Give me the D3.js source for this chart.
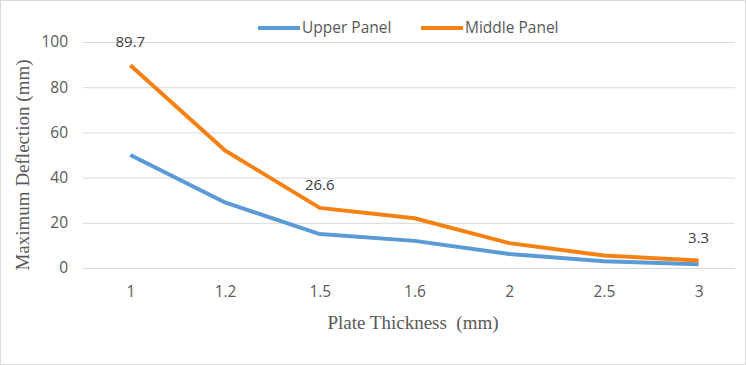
<!DOCTYPE html>
<html>
<head>
<meta charset="utf-8">
<script src="https://cdn.jsdelivr.net/npm/d3@7"></script>
<style>
  body { margin: 0; background: #fff; }
  svg { display: block; }
  .tick text { font-family: "Open Sans", "Liberation Sans", sans-serif; font-size: 15.5px; fill: #595959; }
</style>
</head>
<body>
<script>
const thickness = ['1', '1.2', '1.5', '1.6', '2', '2.5', '3']
const upperPanel = [50, 29, 15, 12, 6.2, 3, 1.7]
const middlePanel = [89.7, 52, 26.6, 22, 11, 5.5, 3.3]
const labelled = [0, 2, 6]   // middle panel points with value labels
const yTicks = [0, 20, 40, 60, 80, 100]

const width = 746
const height = 365
const margin = { top: 42, right: 0, bottom: 97, left: 83 }
const gridRight = 735

const svg = d3.select('body').append('svg')
  .attr('width', width)
  .attr('height', height)

svg.append('rect')
  .attr('x', 0.5).attr('y', 0.5)
  .attr('width', width - 1).attr('height', height - 1)
  .attr('fill', '#fff')
  .attr('stroke', '#d9d9d9')

const x = d3.scalePoint()
  .domain(thickness)
  .range([margin.left, width - margin.right])
  .padding(0.5)

const y = d3.scaleLinear()
  .domain([0, 100])
  .range([height - margin.bottom, margin.top])

// grid
svg.append('g')
  .attr('transform', `translate(${margin.left},0)`)
  .call(d3.axisLeft(y).tickValues(yTicks).tickSize(-(gridRight - margin.left)).tickPadding(15))
  .call(g => g.select('.domain').remove())
  .call(g => g.selectAll('.tick line').attr('stroke', '#d9d9d9').attr('stroke-width', 1))

svg.append('g')
  .attr('transform', `translate(0,${height - margin.bottom})`)
  .call(d3.axisBottom(x).tickSize(0).tickPadding(18))
  .call(g => g.select('.domain').remove())

const line = d3.line()
  .x((d, i) => x(thickness[i]))
  .y(d => y(d))

const series = [
  { name: 'Upper Panel', values: upperPanel, color: '#5b9bd5' },
  { name: 'Middle Panel', values: middlePanel, color: '#f58113' }
]

svg.selectAll('.series')
  .data(series)
  .join('path')
  .attr('class', 'series')
  .attr('d', d => line(d.values))
  .attr('fill', 'none')
  .attr('stroke', d => d.color)
  .attr('stroke-width', 4)
  .attr('stroke-linejoin', 'round')

svg.selectAll('.vlabel')
  .data(labelled)
  .join('text')
  .attr('class', 'vlabel')
  .attr('x', i => x(thickness[i]))
  .attr('y', i => y(middlePanel[i]) - 18)
  .attr('text-anchor', 'middle')
  .attr('font-family', '"Open Sans", "Liberation Sans", sans-serif')
  .attr('font-size', 15)
  .attr('fill', '#404040')
  .text(i => middlePanel[i])

// legend
const legendX = [258, 421]
const legend = svg.selectAll('.legend')
  .data(series)
  .join('g')
  .attr('class', 'legend')
  .attr('transform', (d, i) => `translate(${legendX[i]},28)`)
legend.append('line')
  .attr('x1', 0).attr('x2', 42)
  .attr('stroke', d => d.color)
  .attr('stroke-width', 4)
legend.append('text')
  .attr('x', 44)
  .attr('dy', '0.35em')
  .attr('font-family', '"Open Sans", "Liberation Sans", sans-serif')
  .attr('font-size', 15.5)
  .attr('fill', '#595959')
  .text(d => d.name)

// axis titles
svg.append('text')
  .attr('x', 413)
  .attr('y', 329)
  .attr('text-anchor', 'middle')
  .attr('font-family', '"Liberation Serif", serif')
  .attr('font-size', 19)
  .attr('fill', '#595959')
  .style('white-space', 'pre')
  .text('Plate Thickness  (mm)')

svg.append('text')
  .attr('transform', `translate(29,165) rotate(-90)`)
  .attr('text-anchor', 'middle')
  .attr('font-family', '"Liberation Serif", serif')
  .attr('font-size', 19)
  .attr('fill', '#595959')
  .text('Maximum Deflection (mm)')
</script>
</body>
</html>
